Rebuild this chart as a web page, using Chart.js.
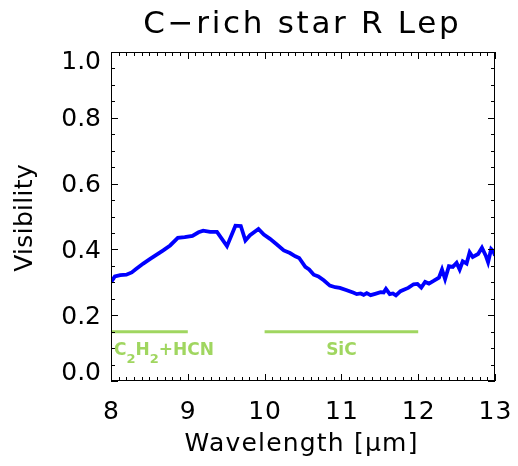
<!DOCTYPE html>
<html>
<head>
<meta charset="utf-8">
<script src="https://cdn.jsdelivr.net/npm/chart.js@4"></script>
<style>
html,body{margin:0;padding:0;background:#fff;}
#wrap{width:518px;height:466px;position:relative;}
</style>
</head>
<body>
<div id="wrap"><canvas id="c" width="518" height="466"></canvas></div>
<script>
// ---- data ----
const wavelength = [8.00,8.05,8.12,8.20,8.27,8.33,8.42,8.51,8.60,8.68,8.77,8.87,8.96,9.06,9.14,9.20,9.29,9.38,9.51,9.62,9.69,9.75,9.81,9.92,9.99,10.07,10.16,10.25,10.33,10.40,10.45,10.53,10.58,10.64,10.70,10.77,10.85,10.92,10.98,11.07,11.16,11.20,11.25,11.29,11.33,11.38,11.44,11.51,11.55,11.58,11.63,11.67,11.71,11.77,11.82,11.87,11.94,11.99,12.04,12.09,12.14,12.20,12.27,12.31,12.35,12.40,12.45,12.50,12.54,12.58,12.63,12.67,12.71,12.78,12.83,12.88,12.91,12.95,12.98,13.00];
const visibility = [0.300,0.318,0.322,0.323,0.330,0.341,0.357,0.371,0.385,0.397,0.412,0.435,0.437,0.441,0.452,0.457,0.453,0.453,0.410,0.472,0.471,0.427,0.443,0.462,0.445,0.432,0.415,0.397,0.389,0.379,0.374,0.347,0.339,0.323,0.318,0.306,0.290,0.285,0.283,0.276,0.268,0.264,0.266,0.262,0.267,0.261,0.265,0.270,0.269,0.280,0.264,0.266,0.260,0.273,0.278,0.283,0.294,0.295,0.284,0.301,0.296,0.304,0.314,0.339,0.310,0.349,0.347,0.359,0.339,0.364,0.357,0.391,0.377,0.386,0.405,0.381,0.361,0.401,0.394,0.381];
const bandNames = ["C2H2+HCN", "SiC"];
const bandStart = [8.0, 10.0];
const bandEnd = [9.0, 12.0];
const bandLevel = [0.15, 0.15];
const bandLabelLevel = 0.1;
const xTicks = [8, 9, 10, 11, 12, 13];
const yTicks = [0.0, 0.2, 0.4, 0.6, 0.8, 1.0];
const titleText = "C\u2212rich star R Lep";
const xTitle = "Wavelength [\u03bcm]";
const yTitle = "Visibility";

const GREEN = "rgb(160,214,96)";
const FONT = "'DejaVu Sans', sans-serif";

const datasets = [{
  data: wavelength.map((x, i) => ({x: x, y: visibility[i]})),
  borderColor: "#0000ff", borderWidth: 3.8, pointRadius: 0, tension: 0, fill: false
}];
bandNames.forEach((n, i) => {
  datasets.push({
    data: [{x: bandStart[i], y: bandLevel[i]}, {x: bandEnd[i], y: bandLevel[i]}],
    borderColor: GREEN, borderWidth: 3, pointRadius: 0, fill: false
  });
});

function spaced(ctx, text, x, y, sp) {
  // centered text with letter spacing
  ctx.letterSpacing = sp + "px";
  const w = ctx.measureText(text).width - sp;
  ctx.textAlign = "left";
  ctx.fillText(text, x - w / 2, y);
  ctx.letterSpacing = "0px";
}

const decor = {
  id: "decor",
  afterDatasetsDraw(chart) {
    const ctx = chart.ctx, a = chart.chartArea;
    const xs = chart.scales.x, ys = chart.scales.y;
    ctx.save();
    // frame
    ctx.strokeStyle = "#000"; ctx.lineWidth = 1;
    ctx.strokeRect(a.left + 0.5, a.top + 0.5, a.right - a.left - 1, a.bottom - a.top - 1);
    // x ticks (inward, top & bottom)
    ctx.beginPath();
    for (let k = 0; k <= 50; k++) {
      const v = 8 + k * 0.1;
      const px = Math.round(xs.getPixelForValue(v)) + 0.5;
      const len = (k % 10 === 0) ? 7 : 4;
      ctx.moveTo(px, a.bottom); ctx.lineTo(px, a.bottom - len);
      ctx.moveTo(px, a.top); ctx.lineTo(px, a.top + len);
    }
    for (let k = 0; k <= 20; k++) {
      const v = k * 0.05;
      const py = Math.round(ys.getPixelForValue(v)) + 0.5;
      const len = (k % 4 === 0) ? 7 : 4;
      ctx.moveTo(a.left, py); ctx.lineTo(a.left + len, py);
      ctx.moveTo(a.right, py); ctx.lineTo(a.right - len, py);
    }
    ctx.stroke();
    // tick labels
    ctx.fillStyle = "#000";
    ctx.font = "25px " + FONT;
    ctx.textAlign = "center"; ctx.textBaseline = "middle";
    xTicks.forEach(v => spaced(ctx, String(v), xs.getPixelForValue(v), 412, 1));
    yTicks.forEach(v => {
      let py = ys.getPixelForValue(v);
      py = Math.max(a.top + 10, Math.min(a.bottom - 8, py + 2));
      ctx.textAlign = "right";
      ctx.fillText(v.toFixed(1), 101, py);
    });
    // titles
    ctx.font = "31px " + FONT;
    spaced(ctx, titleText, 301, 25, 2.7);
    ctx.font = "25px " + FONT;
    spaced(ctx, xTitle, 301, 444, 1.2);
    ctx.save();
    ctx.translate(25, 218); ctx.rotate(-Math.PI / 2);
    spaced(ctx, yTitle, 0, 0, 0.3);
    ctx.restore();
    // band labels
    ctx.fillStyle = GREEN;
    ctx.textBaseline = "alphabetic";
    const by = ys.getPixelForValue(bandLabelLevel) + 7;
    // C2H2+HCN with subscripts
    let x = xs.getPixelForValue(bandStart[0]) + 3;
    ctx.textAlign = "left";
    const parts = [["C", 0], ["2", 1], ["H", 0], ["2", 1], ["+HCN", 0]];
    parts.forEach(p => {
      ctx.font = (p[1] ? "bold 13px " : "bold 17px ") + FONT;
      const yy = p[1] ? by + 8 : by;
      ctx.fillText(p[0], x, yy);
      x += ctx.measureText(p[0]).width;
    });
    ctx.font = "bold 17px " + FONT;
    ctx.textAlign = "center";
    ctx.fillText(bandNames[1], xs.getPixelForValue((bandStart[1] + bandEnd[1]) / 2), by);
    ctx.restore();
  }
};

new Chart(document.getElementById("c"), {
  type: "line",
  data: {datasets: datasets},
  options: {
    responsive: false, animation: false,
    layout: {padding: {left: 111, top: 52, right: 23, bottom: 85}},
    plugins: {legend: {display: false}, tooltip: {enabled: false}, title: {display: false}},
    scales: {
      x: {type: "linear", min: 8, max: 13, display: false},
      y: {type: "linear", min: 0, max: 1, display: false}
    }
  },
  plugins: [decor]
});
</script>
</body>
</html>
